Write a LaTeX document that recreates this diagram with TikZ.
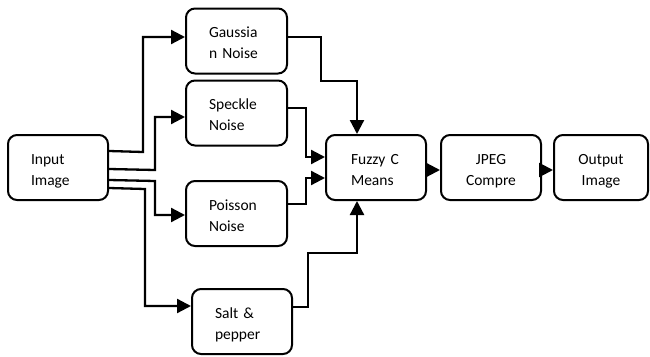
\documentclass[tikz,border=0pt]{standalone}
\usepackage{fontspec}
\setmainfont{Carlito}
\usetikzlibrary{arrows.meta}
\newcommand{\twol}[2]{\rule{0pt}{18pt}#1\\#2\rule[-4pt]{0pt}{4pt}}
\begin{document}
\begin{tikzpicture}[x=1pt,y=-1pt,
  box/.style={draw, line width=2pt, rounded corners=9pt, minimum height=65pt,
    inner xsep=23pt, inner ysep=0pt, align=left, text width=#1,
    font=\fontsize{15.5}{21}\selectfont},
  cbox/.style={draw, line width=2pt, rounded corners=9pt, minimum height=65pt,
    inner xsep=8pt, inner ysep=0pt, align=center, text width=#1,
    font=\fontsize{15.5}{21}\selectfont},
  arr/.style={line width=2.3pt, -{Triangle[length=14pt,width=14pt]}}]
\useasboundingbox (0,0) rectangle (650,356);

\node[box=54pt] (in) at (58,167.5) {\twol{Input}{Image}};
\node[box=55pt] (g) at (236.5,41) {\twol{Gaussia}{n Noise}};
\node[box=55pt] (sp) at (236.5,113) {\twol{Speckle}{Noise}};
\node[box=55pt] (po) at (236.5,213.5) {\twol{Poisson}{Noise}};
\node[box=54pt] (sa) at (242,321.5) {\twol{Salt \&}{pepper}};
\node[box=50pt, inner xsep=25pt] (fz) at (376,167.5) {\twol{Fuzzy C}{Means}};
\node[cbox=84pt] (jp) at (491,167.5) {\twol{JPEG}{Compre}};
\node[cbox=78pt] (out) at (601,167.5) {\twol{Output}{Image}};

% input to noise
\draw[arr] ([yshift=-17pt]in.north east) -- (143,152) -- (143,37) -- ([yshift=4pt]g.west);
\draw[arr] ([yshift=-35pt]in.north east) -- (155,170) -- (155,117) -- ([yshift=-4pt]sp.west);
\draw[arr] ([yshift=-46pt]in.north east) -- (155,181) -- (155,215) -- ([yshift=-1.5pt]po.west);
\draw[arr] ([yshift=-54pt]in.north east) -- (145,189) -- (145,306) -- ([yshift=15.5pt]sa.west);

% noise to fuzzy
\draw[arr] ([yshift=4pt]g.east) -- (321,37) -- (321,81) -- (357,81) -- (357,0 |- fz.north);
\draw[arr] ([yshift=5pt]sp.east) -- (306,108) -- (306,157) -- ([yshift=10.5pt]fz.west);
\draw[arr] ([yshift=9.5pt]po.east) -- (306,204) -- (306,178) -- ([yshift=-10.5pt]fz.west);
\draw[arr] ([yshift=14.5pt]sa.east) -- (308,307) -- (308,253) -- (357,253) -- (357,0 |- fz.south);

% chain
\draw[arr] ([yshift=-2.5pt]fz.east) -- ([yshift=-2.5pt]jp.west);
\draw[arr] ([yshift=-2.5pt]jp.east) -- ([yshift=-2.5pt]out.west);
\end{tikzpicture}
\end{document}
